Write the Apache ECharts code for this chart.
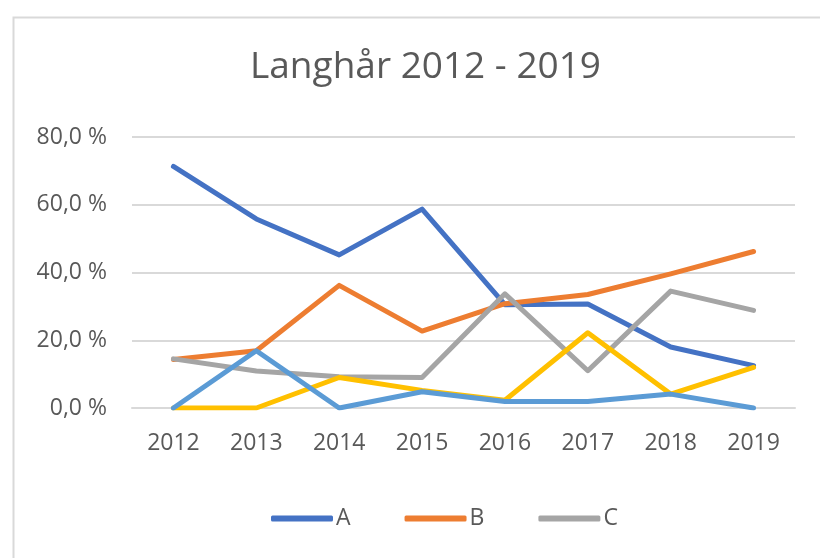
<!DOCTYPE html>
<html>
<head>
<meta charset="utf-8">
<script src="https://cdn.jsdelivr.net/npm/echarts@6/dist/echarts.min.js"></script>
<style>html,body{margin:0;padding:0;background:#fff;}#c{width:820px;height:558px;}</style>
</head>
<body>
<div id="c"></div>
<script>
const years = ['2012','2013','2014','2015','2016','2017','2018','2019'];
const seriesA = [71.3, 55.8, 45.2, 58.7, 30.5, 30.7, 18.0, 12.5];
const seriesB = [14.3, 16.9, 36.2, 22.7, 30.8, 33.5, 39.6, 46.2];
const seriesC = [14.5, 10.9, 9.2, 9.0, 33.7, 11.0, 34.5, 28.8];
const seriesD = [0.0, 0.0, 9.0, 5.2, 2.3, 22.2, 4.1, 12.0];
const seriesE = [0.0, 16.9, 0.0, 4.8, 1.9, 1.9, 4.1, 0.0];
const yTicks = [0, 20, 40, 60, 80];

const FONT = "'Open Sans', 'Noto Sans', sans-serif";
const TXT = '#595959';
function mk(name, data, color) {
  return {
    name: name, type: 'line', data: data, symbol: 'none', showSymbol: false,
    lineStyle: { color: color, width: 5, cap: 'round', join: 'round' },
    itemStyle: { color: color },
    animation: false
  };
}
const chart = echarts.init(document.getElementById('c'));
chart.setOption({
  animation: false,
  backgroundColor: '#fff',
  title: {
    text: 'Langhår 2012 - 2019', left: 245, top: 44,
    textStyle: { color: TXT, fontFamily: FONT, fontSize: 37, fontWeight: 'normal' }
  },
  graphic: [{
    type: 'rect', left: 11, top: 15, shape: { width: 900, height: 700 },
    style: { fill: 'none', stroke: '#D9D9D9', lineWidth: 2 }, silent: true
  }],
  legend: {
    data: ['A', 'B', 'C'], bottom: 23, left: 266,
    icon: 'roundRect', itemWidth: 62, itemHeight: 6, itemGap: 54,
    textStyle: { color: TXT, fontFamily: FONT, fontSize: 23, padding: [0,0,0,-2] }
  },
  grid: { left: 132, right: 25, top: 137, bottom: 150 },
  xAxis: {
    type: 'category', data: years, boundaryGap: true,
    axisLine: { show: true, lineStyle: { color: '#D9D9D9', width: 2 } },
    axisTick: { show: false },
    axisLabel: { color: TXT, fontFamily: FONT, fontSize: 23, margin: 24 }
  },
  yAxis: {
    type: 'value', min: yTicks[0], max: yTicks[yTicks.length - 1], interval: 20,
    axisLine: { show: false }, axisTick: { show: false },
    splitLine: { lineStyle: { color: '#D9D9D9', width: 2 } },
    axisLabel: {
      color: TXT, fontFamily: FONT, fontSize: 23, margin: 25,
      formatter: v => v.toFixed(1).replace('.', ',') + ' %'
    }
  },
  series: [
    mk('A', seriesA, '#4472C4'),
    mk('B', seriesB, '#ED7D31'),
    mk('C', seriesC, '#A5A5A5'),
    mk('D', seriesD, '#FFC000'),
    mk('E', seriesE, '#5B9BD5')
  ]
});
</script>
</body>
</html>
